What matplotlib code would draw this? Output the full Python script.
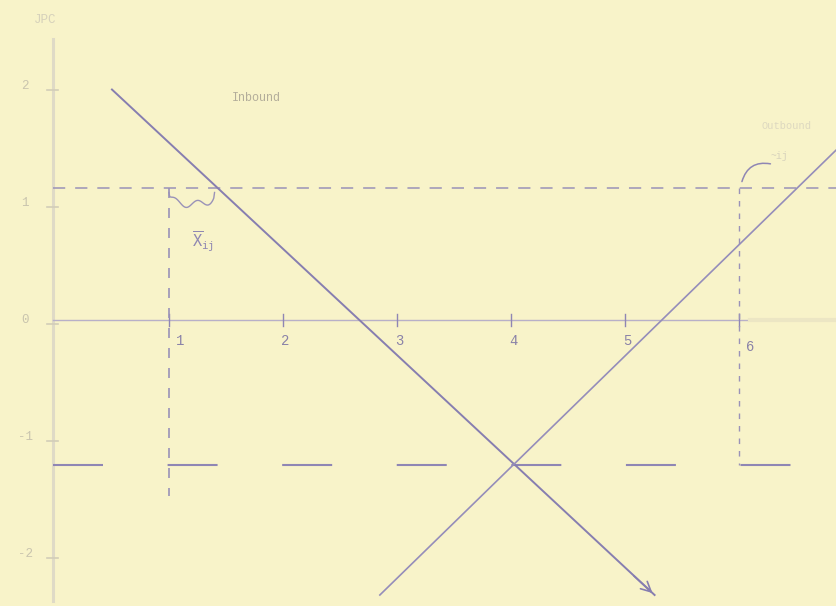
import numpy as np
import matplotlib.pyplot as plt

# axis ticks
x_ticks = [1, 2, 3, 4, 5, 6]
x_labels = ["1", "2", "3", "4", "5", "6"]
y_ticks = [2, 1, 0, -1, -2]
y_labels = ["2", "1", "0", "-1", "-2"]

# demand curves
inbound_x = [0.5, 5.26]
inbound_y = [1.97, -2.35]
outbound_x = [2.85, 6.86]
outbound_y = [-2.35, 1.46]

# reference levels
upper_level = 1.13
lower_level = -1.24
left_drop = [1.0, upper_level, -1.5]
right_drop = [6.0, upper_level, lower_level]
brace_span = [1.0, 1.4]

paper = "#f8f3c9"
ink = "#8f86b4"
faint = "#dfdac6"
mono = "Liberation Mono"

fig = plt.figure(figsize=(8.37, 6.06), dpi=100)
fig.patch.set_facecolor(paper)
ax = fig.add_axes([0, 0, 1, 1])
ax.set_facecolor(paper)
ax.set_xlim(-0.482, 6.86)
ax.set_ylim(-2.444, 2.735)
ax.axis("off")

# axes
ax.plot([-0.02, -0.02], [-2.4, 2.4], color=faint, lw=2.2, zorder=1)
ax.plot([-0.02, 6.86], [0, 0], color="#b8b0c8", lw=1.0, zorder=2)
ax.plot([6.1, 6.86], [0, 0], color="#ece6c4", lw=3, zorder=2)

for xt, lab in zip(x_ticks, x_labels):
    ax.plot([xt, xt], [-0.05, 0.05], color=ink, lw=1.0)
    dx = 0.1 if xt in (1, 6) else 0.02
    dy = -0.18 if xt != 6 else -0.23
    ax.text(xt + dx, dy, lab, ha="center", va="center", fontsize=10,
            color="#8a82a8", family=mono)

for yt, lab in zip(y_ticks, y_labels):
    ax.plot([-0.07, 0.03], [yt - 0.03, yt - 0.03], color="#d2cdb8", lw=1.2)
    ax.text(-0.26, yt, lab, ha="center", va="center", fontsize=9,
            color="#c9c4ae", family=mono)
ax.text(-0.09, 2.56, "JPC", ha="center", va="center", fontsize=9,
        color="#d6d1bb", family=mono)

# dashed levels
ax.plot([-0.02, 6.86], [upper_level, upper_level], color="#9a92b8", lw=1.1,
        linestyle=(0, (8, 6.5)))
ax.plot([-0.02, 6.86], [lower_level, lower_level], color=ink, lw=1.5,
        linestyle=(0, (24, 31)))
ax.plot([left_drop[0]] * 2, left_drop[1:], color="#9a92b8", lw=1.2,
        linestyle=(0, (6, 6)))
ax.plot([right_drop[0]] * 2, right_drop[1:], color="#9a92b8", lw=1.0,
        linestyle=(0, (4, 5)))

# inbound and outbound lines
ax.plot(inbound_x, inbound_y, color="#877eb0", lw=1.4)
ax.annotate("", xy=(inbound_x[1], inbound_y[1]),
            xytext=(inbound_x[1] - 0.2, inbound_y[1] + 0.18),
            arrowprops=dict(arrowstyle="->", color="#877eb0", lw=1.2,
                            mutation_scale=18))
ax.plot(outbound_x, outbound_y, color="#958dba", lw=1.2)

ax.text(1.55, 1.9, "Inbound", fontsize=8.5, va="center", color="#b3ad9a",
        family=mono)
ax.text(6.2, 1.66, "Outbound", fontsize=7.5, va="center", color="#ddd8c0",
        family=mono)

# brace under the upper level
bx = np.linspace(brace_span[0], brace_span[1], 60)
t = (bx - brace_span[0]) / (brace_span[1] - brace_span[0])
by = upper_level - 0.04 - 0.1 * np.sin(np.pi * t) ** 0.3 + 0.03 * np.sin(4 * np.pi * t)
ax.plot(bx, by, color="#9a92b8", lw=1.0)
ax.text(1.2, 0.62, r"$\overline{\mathtt{X}}_{\mathtt{ij}}$", fontsize=11,
        color="#9088b2")

# curved pointer near the outbound label
ax.annotate("", xy=(6.02, upper_level + 0.03), xytext=(6.3, upper_level + 0.2),
            arrowprops=dict(arrowstyle="-", color="#8f86b4", lw=1.1,
                            connectionstyle="arc3,rad=0.5"))
ax.text(6.28, 1.38, "~ij", fontsize=7, color="#d8d3bc", family=mono)

fig.savefig("out.png", dpi=100, facecolor=paper)
